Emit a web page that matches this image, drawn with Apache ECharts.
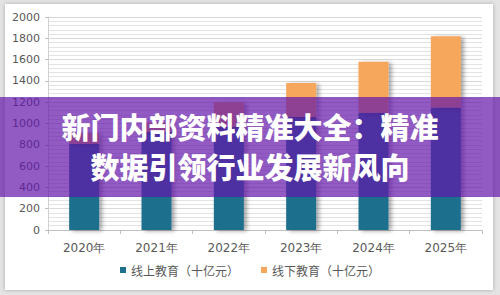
<!DOCTYPE html>
<html>
<head>
<meta charset="utf-8">
<script src="https://cdn.jsdelivr.net/npm/echarts@6/dist/echarts.min.js"></script>
<style>
  html, body { margin: 0; padding: 0; background: #e4e4e4; }
  #wrap {
    position: absolute; left: 5px; top: 4px; width: 488px; height: 286px;
    background: #fff; box-shadow: 0 0 4px rgba(0,0,0,0.25);
  }
  #chart { position: absolute; left: -5px; top: -4px; width: 500px; height: 295px; }
</style>
</head>
<body>
<div id="wrap"><div id="chart"></div></div>
<script>
const years = ['2020年', '2021年', '2022年', '2023年', '2024年', '2025年']
const online = [810, 920, 970, 1060, 1100, 1150]
const offline = [100, 90, 230, 320, 480, 670]
const seriesNames = ['线上教育（十亿元）', '线下教育（十亿元）']
const bannerLines = ['新门内部资料精准大全：精准', '数据引领行业发展新风向']

const chart = echarts.init(document.getElementById('chart'), null, { renderer: 'svg' })

const barShadow = {
  shadowColor: 'rgba(0,0,0,0.35)',
  shadowBlur: 4,
  shadowOffsetX: 3,
  shadowOffsetY: 1,
}

const bannerFont = '900 29px "Noto Sans CJK SC", sans-serif'

const option = {
  animation: false,
  textStyle: { fontFamily: '"Noto Sans CJK SC", "DejaVu Sans", sans-serif' },
  grid: { left: 48, right: 18, top: 17, bottom: 65 },
  legend: {
    data: seriesNames,
    bottom: 14,
    left: 'center',
    itemWidth: 6,
    itemHeight: 6,
    itemGap: 22,
    icon: 'rect',
    textStyle: { color: '#595959', fontSize: 12, fontFamily: '"Noto Sans CJK SC", serif' },
  },
  xAxis: {
    type: 'category',
    data: years,
    axisLine: { lineStyle: { color: '#bfbfbf' } },
    axisTick: { show: true, length: 4, lineStyle: { color: '#bfbfbf' } },
    axisLabel: { color: '#595959', fontSize: 12, margin: 12, fontFamily: '"DejaVu Sans", sans-serif' },
  },
  yAxis: {
    type: 'value',
    min: 0,
    max: 2000,
    interval: 200,
    axisLine: { show: true, lineStyle: { color: '#d0d0d0' } },
    axisTick: { show: true, length: 3, lineStyle: { color: '#bfbfbf' } },
    axisLabel: {
      color: '#595959',
      fontSize: 11,
      margin: 8,
      fontFamily: '"DejaVu Sans", sans-serif',
      formatter: (v) => String(v),
    },
    splitLine: { lineStyle: { color: '#d9d9d9' } },
    minorTick: { show: false, splitNumber: 5 },
    minorSplitLine: { show: true, lineStyle: { color: '#e3e3e3' } },
  },
  series: [
    {
      name: seriesNames[0],
      type: 'bar',
      stack: 'total',
      data: online,
      barWidth: 30,
      itemStyle: { color: '#1f6f8e', ...barShadow },
    },
    {
      name: seriesNames[1],
      type: 'bar',
      stack: 'total',
      data: offline,
      barWidth: 30,
      itemStyle: { color: '#f6a75b', ...barShadow },
    },
  ],
  graphic: [
    {
      type: 'rect',
      left: 0,
      top: 97,
      z: 100,
      shape: { width: 500, height: 100 },
      style: { fill: 'rgba(98,22,170,0.7)' },
    },
    {
      type: 'text',
      left: 'center',
      top: 111,
      z: 101,
      style: {
        text: bannerLines[0],
        fill: '#fff',
        font: bannerFont,
        shadowColor: 'rgba(0,0,0,0.3)',
        shadowBlur: 2,
      },
    },
    {
      type: 'text',
      left: 'center',
      top: 151,
      z: 101,
      style: {
        text: bannerLines[1],
        fill: '#fff',
        font: bannerFont,
        shadowColor: 'rgba(0,0,0,0.3)',
        shadowBlur: 2,
      },
    },
  ],
}

chart.setOption(option)
</script>
</body>
</html>
